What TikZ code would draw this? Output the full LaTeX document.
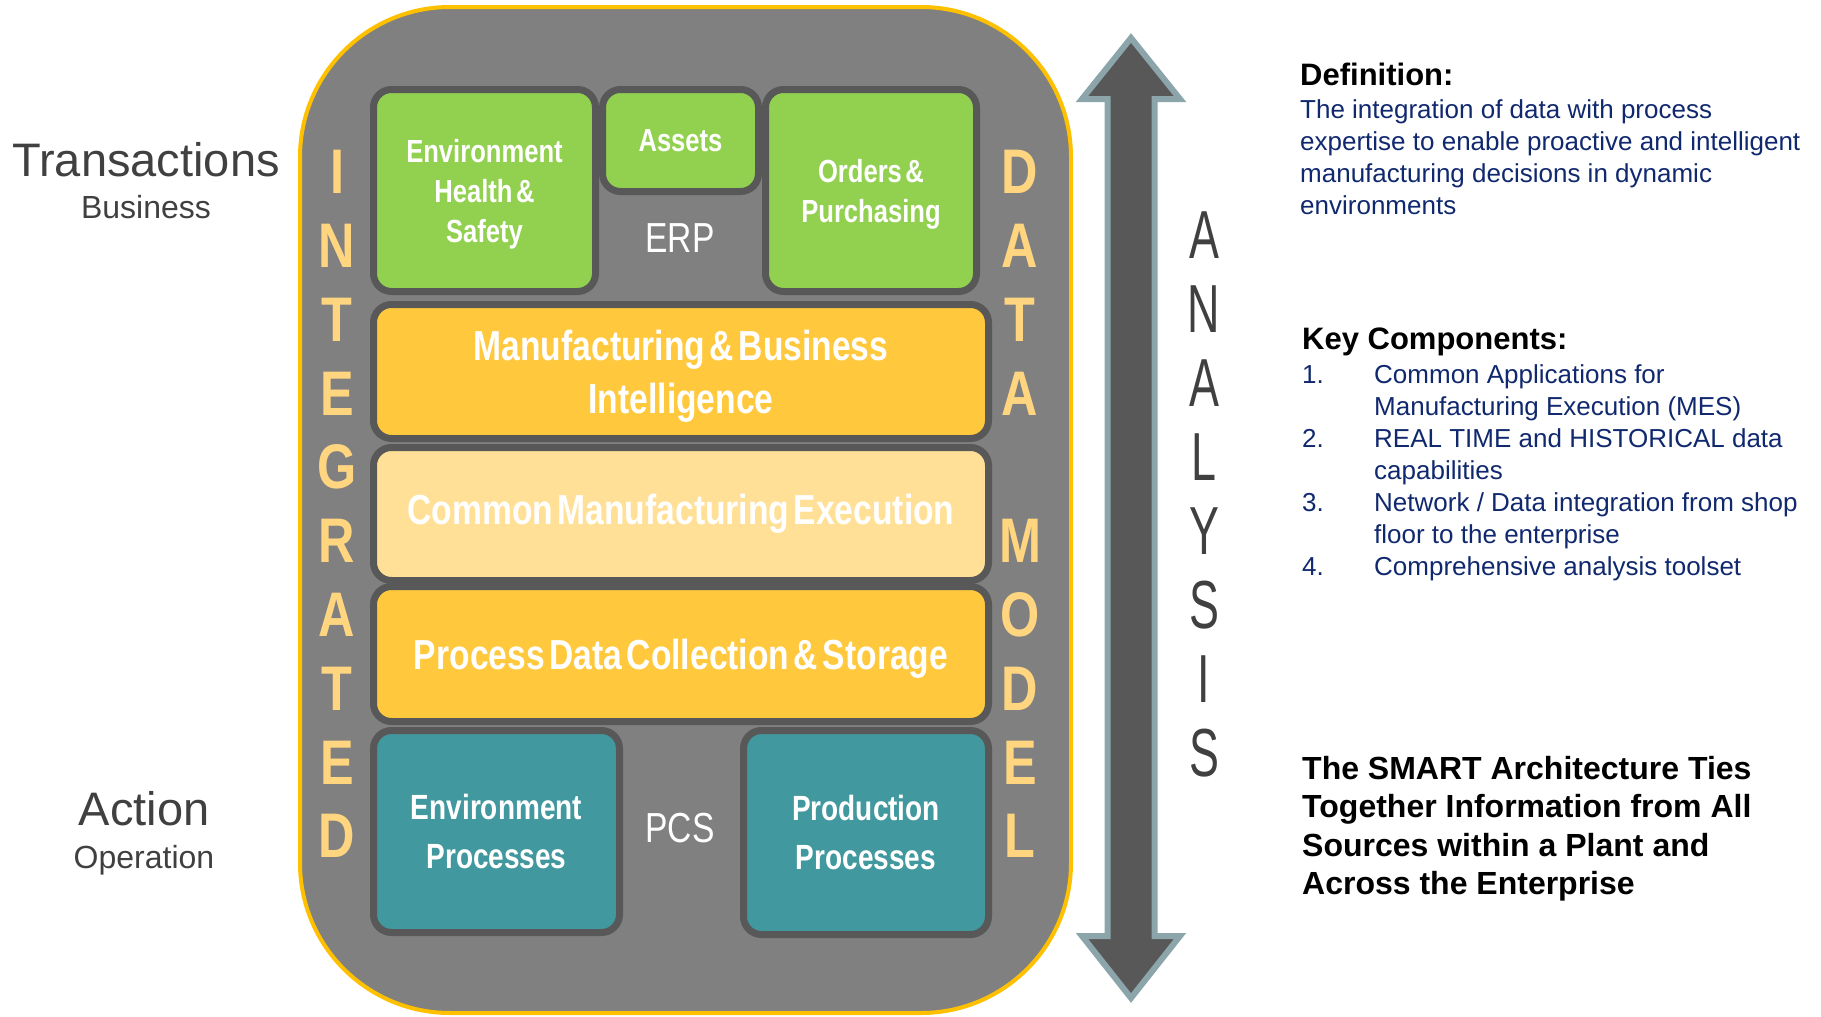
\documentclass[tikz,border=0pt]{standalone}
\usepackage{fontspec}
\setmainfont{Liberation Sans}
\newfontfamily\narrowfont[FakeStretch=0.8, WordSpace=0.5]{Liberation Sans}
\newfontfamily\tallfont[FakeStretch=0.66]{Liberation Sans}
\usepackage{tikz}
\usetikzlibrary{positioning}
\definecolor{gold}{RGB}{255,192,0}
\definecolor{panelgray}{RGB}{128,128,128}
\definecolor{rimgray}{RGB}{88,88,88}
\definecolor{leafgreen}{RGB}{146,208,80}
\definecolor{amber}{RGB}{255,200,61}
\definecolor{cream}{RGB}{255,224,150}
\definecolor{teal}{RGB}{65,152,158}
\definecolor{paleorange}{RGB}{255,213,128}
\definecolor{shaftgray}{RGB}{88,88,88}
\definecolor{edgeblue}{RGB}{140,165,170}
\definecolor{labelgray}{RGB}{64,64,64}
\definecolor{navy}{RGB}{16,40,110}

\begin{document}
\begin{tikzpicture}[x=1pt, y=-1pt,
  block/.style={draw=rimgray, line width=7pt, rounded corners=18pt, inner sep=0pt, align=center, text=white,
    font={\narrowfont\bfseries\fontsize{32}{40}\selectfont}},
  layer/.style={block, minimum width=615pt, font={\narrowfont\bfseries\fontsize{42}{53}\selectfont}},
  tag/.style={text=white, inner sep=0pt, font={\narrowfont\fontsize{42}{42}\selectfont}},
  sidelet/.style={text=paleorange, inner sep=0pt, font={\narrowfont\bfseries\fontsize{63}{63}\selectfont}},
  analet/.style={text=labelgray, inner sep=0pt, font={\tallfont\fontsize{68}{68}\selectfont}},
  side/.style={text=labelgray, inner sep=0pt, anchor=base}]
\useasboundingbox (0,0) rectangle (1821,1017);

% frame
\draw[gold, line width=4pt, fill=panelgray, rounded corners=150pt] (300,7) rectangle (1071,1013);

% ERP level
\node[block, fill=leafgreen, minimum width=222pt, minimum height=202pt, text depth=0pt] (ehs) at (484.5,190.5) {Environment\\Health \&\\Safety};
\node[block, fill=leafgreen, minimum width=156pt, minimum height=102pt] (assets) at (680.5,140.5) {Assets};
\node[block, fill=leafgreen, minimum width=211pt, minimum height=202pt, text depth=0pt] (orders) at (871,190.5) {Orders \&\\Purchasing};
\node[tag] (erp) at (680,238) {ERP};

% middle layers
\node[layer, fill=amber, minimum height=134pt, text depth=0pt] (mbi) at (681,371.5) {Manufacturing \& Business\\Intelligence};
\node[layer, fill=cream, minimum height=133pt] (cme) at (681,514) {Common Manufacturing Execution};
\node[layer, fill=amber, minimum height=135pt, text depth=0pt] (pdcs) at (681,654) {Process Data Collection \& Storage};

% PCS level
\node[block, fill=teal, minimum width=246pt, minimum height=202pt, font={\narrowfont\bfseries\fontsize{35}{49}\selectfont}] (envproc) at (496.5,831.5) {Environment\\Processes};
\node[block, fill=teal, minimum width=245pt, minimum height=204pt, font={\narrowfont\bfseries\fontsize{35}{49}\selectfont}] (prodproc) at (866,832.5) {Production\\Processes};
\node[tag] (pcs) at (680,828) {PCS};

% side letters
\foreach \ch [count=\i from 0] in {I,N,T,E,G,R,A,T,E,D}
  \node[sidelet] (int\i) at (337,{172+73.8*\i}) {\ch};
\foreach \ch [count=\i from 0] in {D,A,T,A}
  \node[sidelet] (dat\i) at (1020,{172+73.8*\i}) {\ch};
\foreach \ch [count=\i from 5] in {M,O,D,E,L}
  \node[sidelet] (mod\i) at (1020,{172+73.8*\i}) {\ch};

% analysis arrow
\draw[edgeblue, line width=6pt, fill=shaftgray, line join=miter]
  (1131,38) -- (1180,99) -- (1154.5,99) -- (1154.5,936) -- (1180,936) -- (1131,998)
  -- (1082,936) -- (1107.5,936) -- (1107.5,99) -- (1082,99) -- cycle;
\foreach \ch [count=\i from 0] in {A,N,A,L,Y,S,I,S}
  \node[analet] (ana\i) at (1204,{235+74*\i}) {\ch};

% left labels
\node[side, font=\fontsize{47}{47}\selectfont] (trans) at (146,176) {Transactions};
\node[side, font=\fontsize{32}{32}\selectfont] (business) at (146,218.5) {Business};
\node[side, font=\fontsize{47}{47}\selectfont] (action) at (144,825) {Action};
\node[side, font=\fontsize{32}{32}\selectfont] (operation) at (144,868.5) {Operation};

% right text
\node[anchor=base west, inner sep=0pt, font=\bfseries\fontsize{31}{31}\selectfont] (defhead) at (1300,85) {Definition:};
\node[anchor=north west, inner sep=0pt, align=left, text=navy, font=\fontsize{26}{32.3}\selectfont] (defbody) at (1300,99)
  {The integration of data with process\\expertise to enable proactive and intelligent\\manufacturing decisions in dynamic\\environments};
\node[anchor=base west, inner sep=0pt, font=\bfseries\fontsize{31}{31}\selectfont] (keyhead) at (1302,349) {Key Components:};
\foreach \n in {1,...,4}
  \node[anchor=base west, inner sep=0pt, text=navy, font=\fontsize{26}{26}\selectfont] (num\n) at (1302,{383+64*(\n-1)}) {\n.};
\node[anchor=north west, inner sep=0pt, align=left, text=navy, font=\fontsize{26}{32}\selectfont] (keybody) at (1374,364)
  {Common Applications for\\Manufacturing Execution (MES)\\REAL TIME and HISTORICAL data\\capabilities\\Network / Data integration from shop\\floor to the enterprise\\Comprehensive analysis toolset};
\node[anchor=north west, inner sep=0pt, align=left, font=\bfseries\fontsize{32}{38.4}\selectfont] (smart) at (1302,756)
  {The SMART Architecture Ties\\Together Information from All\\Sources within a Plant and\\Across the Enterprise};
\end{tikzpicture}
\end{document}
